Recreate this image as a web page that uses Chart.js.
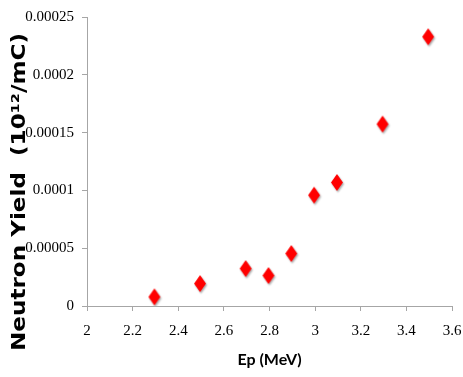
<!DOCTYPE html>
<html>
<head>
<meta charset="utf-8">
<script src="https://cdn.jsdelivr.net/npm/chart.js@4"></script>
<style>
	html, body { margin: 0; padding: 0; background: #fff; }
	#wrap { width: 463px; height: 377px; }
</style>
</head>
<body>
<div id="wrap"><canvas id="yieldChart" width="463" height="377"></canvas></div>
<script>
// data
const energies = [2.3, 2.5, 2.7, 2.8, 2.9, 3.0, 3.1, 3.3, 3.5];
const yields = [0.000007, 0.0000185, 0.0000315, 0.0000255, 0.0000445, 0.000095, 0.000106, 0.0001565, 0.000232];
const xTickLabels = ['2', '2.2', '2.4', '2.6', '2.8', '3', '3.2', '3.4', '3.6'];
const yTickLabels = ['0', '0.00005', '0.0001', '0.00015', '0.0002', '0.00025'];
const xTitle = 'Ep (MeV)';
const yTitle = 'Neutron Yield  (10\u00b9\u00b2/mC)';

const axisGrey = '#a6a6a6';
const tickFont = { family: 'Liberation Sans Narrow', size: 15 };

// red diamond, a bit taller than wide, with soft shadow
function makeDiamond() {
	const c = document.createElement('canvas');
	c.width = 18;
	c.height = 23;
	const g = c.getContext('2d');
	g.shadowColor = 'rgba(0,0,0,0.35)';
	g.shadowBlur = 2;
	g.shadowOffsetX = 1;
	g.shadowOffsetY = 1.5;
	g.fillStyle = '#ff0000';
	g.beginPath();
	g.moveTo(8, 2);
	g.lineTo(14, 10.5);
	g.lineTo(8, 19);
	g.lineTo(2, 10.5);
	g.closePath();
	g.fill();
	return c;
}

// y title drawn by hand: it sits lower than the plot centre, wide heavy font
const yTitlePlugin = {
	id: 'yTitle',
	afterDraw: function(chart) {
		const ctx = chart.ctx;
		ctx.save();
		ctx.translate(25, 192);
		ctx.rotate(-Math.PI / 2);
		ctx.fillStyle = '#000';
		ctx.font = 'bold 19px "DejaVu Sans"';
		const w = ctx.measureText(yTitle).width;
		ctx.scale(Math.max(1, 318 / w), 1);
		ctx.textAlign = 'center';
		ctx.textBaseline = 'alphabetic';
		ctx.fillText(yTitle, 0, 0);
		ctx.restore();
	}
};

const points = energies.map(function(e, i) {
	return { x: e, y: yields[i] };
});

new Chart(document.getElementById('yieldChart').getContext('2d'), {
	type: 'scatter',
	data: {
		datasets: [{
			data: points,
			pointStyle: makeDiamond(),
			backgroundColor: '#ff0000'
		}]
	},
	options: {
		responsive: false,
		animation: false,
		layout: { padding: { top: 15, right: 11, left: 0, bottom: 0 } },
		plugins: {
			legend: { display: false },
			tooltip: { enabled: false }
		},
		scales: {
			x: {
				type: 'linear',
				min: 2,
				max: 3.6,
				afterBuildTicks: function(scale) {
					scale.ticks = xTickLabels.map(function(t) { return { value: parseFloat(t) }; });
				},
				ticks: {
					color: '#000',
					font: tickFont,
					padding: 11,
					maxRotation: 0,
					callback: function(v, i) { return xTickLabels[i]; }
				},
				grid: { drawOnChartArea: false, drawTicks: true, tickLength: 5, color: axisGrey },
				border: { color: axisGrey, width: 1 },
				title: {
					display: true,
					text: xTitle,
					color: '#000',
					font: { family: 'Lato', size: 16, weight: 'bold' },
					padding: { top: 4, bottom: 8 }
				},
				afterFit: function(scale) {
					scale.height = 71;
					scale.paddingLeft = 0;
					scale.paddingRight = 0;
				}
			},
			y: {
				type: 'linear',
				min: 0,
				max: 0.00025,
				afterBuildTicks: function(scale) {
					scale.ticks = yTickLabels.map(function(t) { return { value: parseFloat(t) }; });
				},
				ticks: {
					color: '#000',
					font: tickFont,
					padding: 8,
					callback: function(v, i) { return yTickLabels[i]; }
				},
				grid: { drawOnChartArea: false, drawTicks: true, tickLength: 5, color: axisGrey },
				border: { color: axisGrey, width: 1 },
				afterFit: function(scale) { scale.width = 87; }
			}
		}
	},
	plugins: [yTitlePlugin]
});
</script>
</body>
</html>
